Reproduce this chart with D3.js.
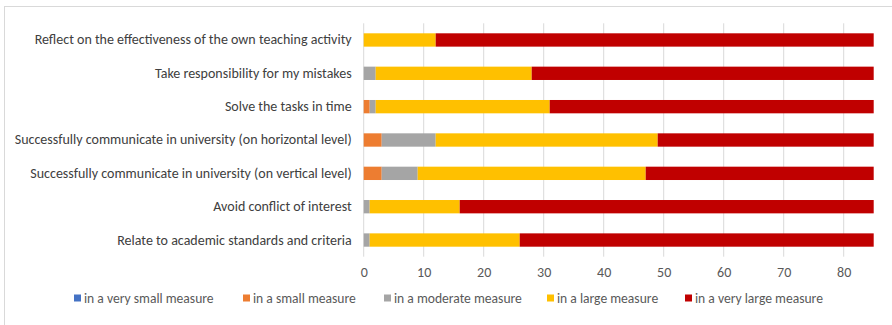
<!DOCTYPE html>
<html>
<head>
<meta charset="utf-8">
<script src="https://cdn.jsdelivr.net/npm/d3@7/dist/d3.min.js"></script>
<style>
  html, body { margin: 0; padding: 0; background: #fff; }
  svg { display: block; font-family: Calibri, Carlito, "Liberation Sans", Arial, sans-serif; }
</style>
</head>
<body>
<svg id="chart" width="892" height="325"></svg>
<script>
// Statements, top to bottom
const categories = [
  "Reflect on the effectiveness of the own teaching activity",
  "Take responsibility for my mistakes",
  "Solve the tasks in time",
  "Successfully communicate in university (on horizontal level)",
  "Successfully communicate in university (on vertical level)",
  "Avoid conflict of interest",
  "Relate to academic standards and criteria"
];

const seriesNames = [
  "in a very small measure",
  "in a small measure",
  "in a moderate measure",
  "in a large measure",
  "in a very large measure"
];

const verySmall = [0, 0, 0, 0, 0, 0, 0];
const small     = [0, 0, 1, 3, 3, 0, 0];
const moderate  = [0, 2, 1, 9, 6, 1, 1];
const large     = [12, 26, 29, 37, 38, 15, 25];
const veryLarge = [73, 57, 54, 36, 38, 69, 59];

const xTicks = [0, 10, 20, 30, 40, 50, 60, 70, 80];

const colors = ["#4472c4", "#ed7d31", "#a5a5a5", "#ffc000", "#c00000"];

const seriesValues = [verySmall, small, moderate, large, veryLarge];
const rows = categories.map((c, i) => {
  const r = { category: c };
  seriesNames.forEach((s, k) => { r[s] = seriesValues[k][i]; });
  return r;
});

const svg = d3.select("#chart");
const W = 892, H = 325;

// outer chart frame
svg.append("rect")
  .attr("x", 4.5).attr("y", 6.5)
  .attr("width", W).attr("height", H)
  .attr("fill", "#fff").attr("stroke", "#d9d9d9").attr("stroke-width", 1);

const plot = { left: 363.7, right: 873.7, top: 23.3, bottom: 256.7 };

const x = d3.scaleLinear().domain([0, 85]).range([plot.left, plot.right]);
const y = d3.scaleBand().domain(categories).range([plot.top, plot.bottom])
  .paddingInner(0.6).paddingOuter(0.3);

// vertical gridlines
svg.append("g").selectAll("line")
  .data(xTicks).join("line")
  .attr("x1", d => x(d)).attr("x2", d => x(d))
  .attr("y1", plot.top).attr("y2", plot.bottom)
  .attr("stroke", "#d9d9d9").attr("stroke-width", 1);

// stacked bars
const stack = d3.stack().keys(seriesNames)(rows);
svg.append("g").selectAll("g")
  .data(stack).join("g")
  .attr("fill", (d, i) => colors[i])
  .selectAll("rect")
  .data(d => d).join("rect")
  .attr("x", d => x(d[0]))
  .attr("width", d => x(d[1]) - x(d[0]))
  .attr("y", d => y(d.data.category))
  .attr("height", y.bandwidth());

const fontStack = "Calibri, Carlito, 'Liberation Sans', Arial, sans-serif";

// x axis labels
const xAxis = d3.axisBottom(x).tickValues(xTicks).tickSize(0).tickPadding(10);
const gx = svg.append("g").attr("transform", `translate(0,${plot.bottom})`).call(xAxis);
gx.select(".domain").remove();
gx.selectAll("text").attr("fill", "#595959").style("font-size", "14px")
  .style("font-family", fontStack);

// category labels
const yAxis = d3.axisLeft(y).tickSize(0).tickPadding(12);
const gy = svg.append("g").attr("transform", `translate(${plot.left},0)`).call(yAxis);
gy.select(".domain").remove();
gy.selectAll("text").attr("fill", "#404040").style("font-size", "14px")
  .style("font-family", fontStack);

// legend
const legendX = [74, 243, 384, 547, 685];
const legend = svg.append("g");
seriesNames.forEach((s, i) => {
  legend.append("rect")
    .attr("x", legendX[i]).attr("y", 294.5)
    .attr("width", 7).attr("height", 7)
    .attr("fill", colors[i]);
  legend.append("text")
    .attr("x", legendX[i] + 10).attr("y", 302.5)
    .attr("fill", "#595959").style("font-size", "13.6px")
    .text(s);
});
</script>
</body>
</html>
